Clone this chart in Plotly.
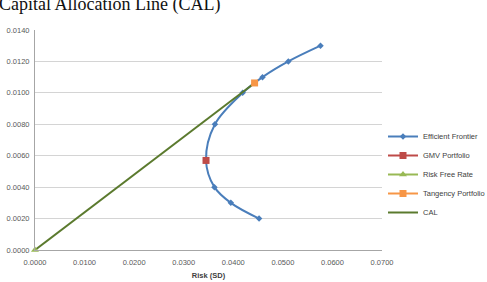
import plotly.graph_objects as go

# Data
frontier_sd = [0.0452, 0.0395, 0.0362, 0.0345, 0.0363, 0.0419, 0.0459, 0.0511, 0.0576]
frontier_ret = [0.0020, 0.0030, 0.0040, 0.0057, 0.0080, 0.0100, 0.0110, 0.0120, 0.0130]
gmv_sd = [0.0345]
gmv_ret = [0.0057]
rf_sd = [0.0]
rf_ret = [0.0]
tan_sd = [0.0443]
tan_ret = [0.01063]
cal_sd = [rf_sd[0], tan_sd[0]]
cal_ret = [rf_ret[0], tan_ret[0]]

W, H = 487, 282
ML, MR, MT, MB = 35, 105, 30, 32
PW, PH = W - ML - MR, H - MT - MB

def px_x(p):
    return (p - ML) / PW

def px_y(p):
    return (H - MB - p) / PH

fig = go.Figure()
fig.add_trace(go.Scatter(x=frontier_sd, y=frontier_ret, mode="lines+markers",
                         name="Efficient Frontier",
                         line=dict(color="#4a7ebb", width=2, shape="spline", smoothing=1),
                         marker=dict(symbol="diamond", size=5, color="#4a7ebb")))
fig.add_trace(go.Scatter(x=cal_sd, y=cal_ret, mode="lines", name="CAL",
                         line=dict(color="#5b7a2e", width=2)))
fig.add_trace(go.Scatter(x=gmv_sd, y=gmv_ret, mode="lines+markers", name="GMV Portfolio",
                         line=dict(color="#be4b48", width=2),
                         marker=dict(symbol="square", size=7, color="#be4b48")))
fig.add_trace(go.Scatter(x=rf_sd, y=rf_ret, mode="lines+markers", name="Risk Free Rate",
                         line=dict(color="#98b954", width=2),
                         marker=dict(symbol="triangle-up", size=7, color="#98b954")))
fig.add_trace(go.Scatter(x=tan_sd, y=tan_ret, mode="lines+markers", name="Tangency Portfolio",
                         line=dict(color="#f79646", width=2),
                         marker=dict(symbol="square", size=7, color="#f79646")))
ranks = {"Efficient Frontier": 1, "GMV Portfolio": 2, "Risk Free Rate": 3,
         "Tangency Portfolio": 4, "CAL": 5}
for t in fig.data:
    t.legendrank = ranks[t.name]
    t.cliponaxis = False

tickfont = dict(family="Liberation Sans, Arial, sans-serif", size=7.5, color="#595959")
fig.update_layout(
    width=W, height=H,
    margin=dict(l=ML, r=MR, t=MT, b=MB, autoexpand=False),
    paper_bgcolor="white", plot_bgcolor="white",
    showlegend=True,
    legend=dict(xref="container", yref="container", x=383 / W, y=1 - 122 / H,
                xanchor="left", yanchor="top",
                font=dict(family="Liberation Sans, Arial, sans-serif", size=7.5, color="#404040"),
                itemwidth=30, bgcolor="rgba(0,0,0,0)", borderwidth=0,
                traceorder="normal"),
    xaxis=dict(range=[0, 0.07], dtick=0.01, tick0=0, tickformat=".4f", automargin=False,
               showgrid=False, zeroline=False, showline=True, linecolor="#a6a6a6",
               linewidth=1, ticks="", tickfont=tickfont, ticklabelstandoff=5,
               title=dict(text="<b>Risk (SD)</b>", font=dict(family="Liberation Sans, Arial, sans-serif",
                                                          size=7.5, color="#404040"), standoff=6)),
    yaxis=dict(range=[0, 0.014], dtick=0.002, tick0=0, tickformat=".4f", automargin=False,
               showgrid=True, gridcolor="#d4d4d4", gridwidth=1, zeroline=False,
               showline=True, linecolor="#a6a6a6", linewidth=1, ticks="", tickfont=tickfont,
               ticklabelstandoff=3),
    annotations=[
        dict(text="Capital Allocation Line (CAL)", xref="paper", yref="paper",
             x=px_x(-3), y=px_y(4), xanchor="left", yanchor="middle", showarrow=False,
             font=dict(family="Liberation Serif, Times New Roman, serif", size=18, color="#111111")),
        dict(text="Return", xref="paper", yref="paper", x=px_x(-4), y=px_y(138),
             xanchor="center", yanchor="middle", textangle=-90, showarrow=False,
             font=dict(family="Liberation Sans, Arial, sans-serif", size=7, color="#7fa3d4")),
    ],
)

fig.write_html("out.html")
